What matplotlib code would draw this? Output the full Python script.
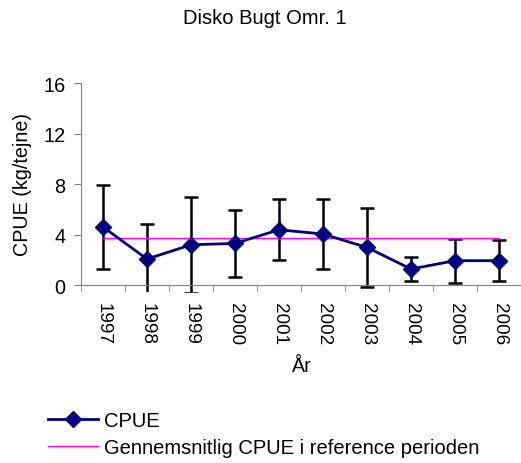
import matplotlib
matplotlib.use("Agg")
import matplotlib.pyplot as plt
import numpy as np

plt.rcParams['font.family'] = ['Liberation Sans', 'DejaVu Sans']

# Data
years = ["1997", "1998", "1999", "2000", "2001", "2002", "2003", "2004", "2005", "2006"]
cpue = [4.6, 2.06, 3.19, 3.3, 4.38, 4.04, 2.98, 1.27, 1.93, 1.93]
cpue_err = [3.3, 2.8, 3.81, 2.63, 2.43, 2.75, 3.1, 0.95, 1.75, 1.63]
ref_mean = 3.7

fig = plt.figure(figsize=(5.21, 4.64), dpi=100)
ax = fig.add_axes([81/521, 1 - 293/464, 440/521, (293 - 84)/464])

x = np.arange(len(years))
ax.errorbar(x, cpue, yerr=cpue_err, fmt="none", ecolor="black", elinewidth=1.8,
            capsize=4.8, capthick=1.8, zorder=2)
ax.plot(x, [ref_mean] * len(x), color="#FF00FF", lw=1, zorder=3,
        label="Gennemsnitlig CPUE i reference perioden")
ax.plot(x, cpue, color="#000080", lw=2, marker="D", markersize=8.5, zorder=4, label="CPUE")

ax.set_xlim(-0.5, len(years) - 0.5)
ax.set_ylim(-0.55, 16)
ax.spines["top"].set_visible(False)
ax.spines["right"].set_visible(False)
ax.spines["bottom"].set_position(("data", 0))
ax.spines["left"].set_bounds(0, 16)
ax.spines["left"].set_color("#808080")
ax.spines["bottom"].set_color("#808080")

ax.set_yticks([0, 4, 8, 12, 16])
ax.set_xticks(x)
ax.set_xticklabels(years, rotation=270, fontsize=13.6)
ax.set_xticks(np.arange(-0.5, len(years), 1), minor=True)
ax.tick_params(axis="x", which="major", length=0, pad=12)
ax.tick_params(axis="x", which="minor", length=4, color="#808080", direction="out")
ax.tick_params(axis="y", length=5, color="#808080", labelsize=14.3, pad=6)

fig.text(23/521, 1 - 184/464, "CPUE (kg/tejne)", rotation=90, ha="center", va="center", fontsize=14.2)
fig.text(302/521, 1 - 367/464, "År", ha="center", va="center", fontsize=14.2)
fig.text(265/521, 1 - 19/464, "Disko Bugt Omr. 1", ha="center", va="center", fontsize=14.5)

h, l = ax.get_legend_handles_labels()
fig.legend([h[1], h[0]], [l[1], l[0]], loc="center left", bbox_to_anchor=(48/521, 1 - 435/464),
           frameon=False, fontsize=14.5, handlelength=2.5, handletextpad=0.3, labelspacing=0.38,
           borderaxespad=0, borderpad=0)

fig.savefig("out.png", dpi=100)
